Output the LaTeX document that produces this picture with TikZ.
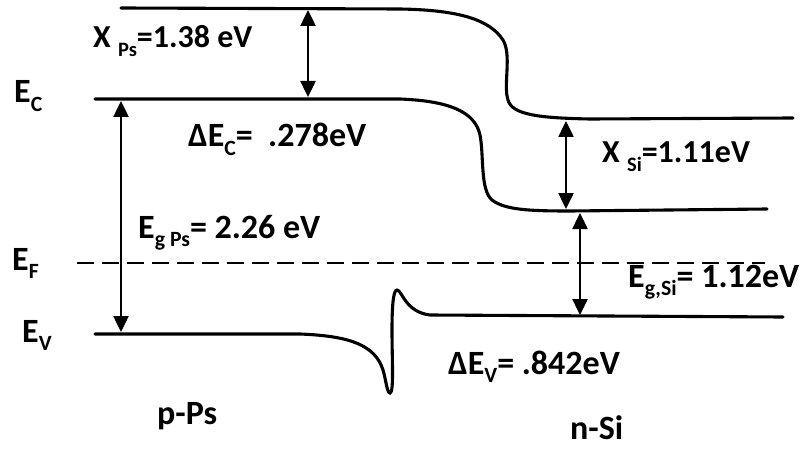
\documentclass[tikz,border=0pt]{standalone}
\usepackage{fontspec}
\setmainfont{Carlito}
\usetikzlibrary{arrows.meta}
\newcommand{\lowsub}[1]{\raisebox{-0.26em}{\fontsize{0.64em}{0.7em}\selectfont #1}}
\begin{document}
\begin{tikzpicture}[x=1pt,y=-1pt,
  band/.style={line width=3.1pt, line cap=round},
  gaparrow/.style={line width=2.5pt, {Triangle[width=15pt,length=16pt]}-{Triangle[width=15pt,length=16pt]}},
  lbl/.style={anchor=base west, inner sep=0pt, font=\bfseries\fontsize{34}{38}\selectfont},
  lblsmall/.style={lbl, font=\bfseries\fontsize{32}{36}\selectfont}]
\useasboundingbox (0,0) rectangle (802,449);

% vacuum level
\draw[band] (121,8) -- (400,9)
  .. controls (460,10) and (490,20) .. (503,40)
  .. controls (512,55) and (503,85) .. (508,100)
  .. controls (512,115) and (540,118) .. (590,119) -- (793,118);

% conduction band edge
\draw[band] (95,99) -- (400,99)
  .. controls (450,101) and (475,112) .. (480,135)
  .. controls (484,155) and (480,190) .. (492,200)
  .. controls (505,210) and (530,211) .. (570,211) -- (767,209);

% valence band edge with interface spike
\draw[band] (95,334) -- (300,334)
  .. controls (350,336) and (375,345) .. (383,370)
  .. controls (386,380) and (387,393) .. (390,393)
  .. controls (394,393) and (392,360) .. (392,330)
  .. controls (392,300) and (394,290) .. (397,290)
  .. controls (402,290) and (405,312) .. (430,315) -- (783,317);

% Fermi level
\draw[line width=2.9pt, dash pattern=on 17pt off 8pt] (77,263) -- (765,263);

% arrow end points
\coordinate (xpsT) at (308,10);
\coordinate (xpsB) at (308,97);
\coordinate (egpsT) at (121,101);
\coordinate (egpsB) at (121,332);
\coordinate (xsiT) at (566,121);
\coordinate (xsiB) at (566,209);
\coordinate (egsiT) at (580,213);
\coordinate (egsiB) at (580,315);

\draw[gaparrow] (xpsT) -- (xpsB);
\draw[gaparrow] (egpsT) -- (egpsB);
\draw[gaparrow] (xsiT) -- (xsiB);
\draw[gaparrow] (egsiT) -- (egsiB);

% labels
\node[lblsmall] (lxps) at (93,48) {X \lowsub{Ps}=1.38 eV};
\node[lbl] (lec) at (14,103) {E\lowsub{C}};
\node[lbl] (ldec) at (188,147) {ΔE\lowsub{C}=\ \ .278eV};
\node[lblsmall] (lxsi) at (602,163) {X \lowsub{Si}=1.11eV};
\node[lbl] (legps) at (138,238) {E\lowsub{g Ps}= 2.26 eV};
\node[lbl] (lef) at (12,270) {E\lowsub{F}};
\node[lbl] (legsi) at (628,287) {E\lowsub{g,Si}= 1.12eV};
\node[lbl] (lev) at (22,342) {E\lowsub{V}};
\node[lbl] (ldev) at (448,374) {ΔE\lowsub{V}= .842eV};
\node[lbl] (lpps) at (157,424) {p-Ps};
\node[lbl] (lnsi) at (570,439) {n-Si};
\end{tikzpicture}
\end{document}
